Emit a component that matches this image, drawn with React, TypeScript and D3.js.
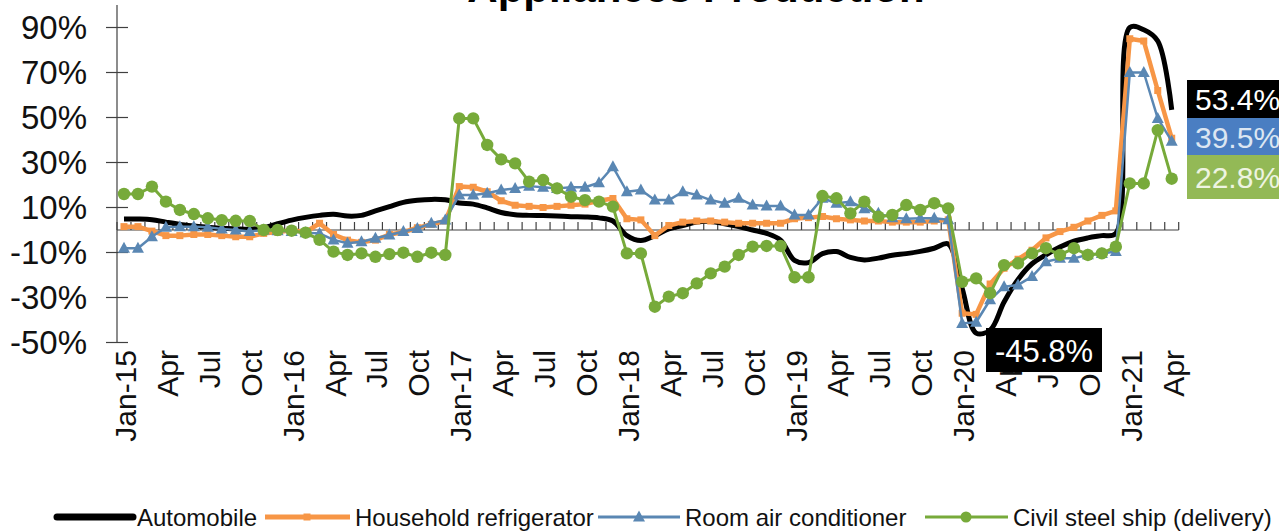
import React from "react";
import * as d3 from "d3";

const categories = [
  "Jan-15","Feb-15","Mar-15","Apr-15","May-15","Jun-15","Jul-15","Aug-15","Sep-15","Oct-15","Nov-15","Dec-15",
  "Jan-16","Feb-16","Mar-16","Apr-16","May-16","Jun-16","Jul-16","Aug-16","Sep-16","Oct-16","Nov-16","Dec-16",
  "Jan-17","Feb-17","Mar-17","Apr-17","May-17","Jun-17","Jul-17","Aug-17","Sep-17","Oct-17","Nov-17","Dec-17",
  "Jan-18","Feb-18","Mar-18","Apr-18","May-18","Jun-18","Jul-18","Aug-18","Sep-18","Oct-18","Nov-18","Dec-18",
  "Jan-19","Feb-19","Mar-19","Apr-19","May-19","Jun-19","Jul-19","Aug-19","Sep-19","Oct-19","Nov-19","Dec-19",
  "Jan-20","Feb-20","Mar-20","Apr-20","May-20","Jun-20","Jul-20","Aug-20","Sep-20","Oct-20","Nov-20","Dec-20",
  "Jan-21","Feb-21","Mar-21","Apr-21",
];

const tickLabels = [
  "Jan-15","Apr","Jul","Oct","Jan-16","Apr","Jul","Oct","Jan-17","Apr","Jul","Oct",
  "Jan-18","Apr","Jul","Oct","Jan-19","Apr","Jul","Oct","Jan-20","Apr","Jul","Oct","Jan-21","Apr",
];

const yTicks = [-50, -30, -10, 10, 30, 50, 70, 90];

const automobile = [
  4.9, 4.9, 4.6, 3.5, 2.5, 1.8, 1.2, 0.8, 0.5, 0.3, 1.0, 2.8,
  4.4, 5.6, 6.5, 7.0, 6.2, 6.5, 8.5, 10.4, 12.3, 13.2, 13.6, 13.4,
  12.0, 11.5, 9.8, 7.8, 6.8, 6.5, 6.4, 6.2, 5.9, 5.8, 5.4, 4.0,
  -2.5, -4.7, -2.5, 0.5, 2.0, 3.5, 3.8, 2.8, 1.5, 0.0, -1.5, -4.5,
  -13.5, -14.5, -10.5, -9.6, -12.2, -13.3, -12.5, -11.2, -10.5, -9.5, -8.1, -6.2,
  -26.0, -45.8, -44.5, -32.0, -22.0, -15.0, -11.0, -7.6, -5.0, -3.5, -2.5, -1.5,
  90.0, 89.0, 84.0, 53.4,
];

const refrigerator = [
  1.5, 1.5, -0.5, -2.5, -2.5, -2.0, -2.0, -2.5, -3.0, -3.0, -1.5, -1.0,
  0.0, -1.0, 3.0, -2.0, -4.5, -5.5, -4.5, -2.0, -1.0, 1.0, 2.5, 4.0,
  19.3, 19.0, 17.0, 13.0, 11.0, 10.5, 10.0, 10.5, 11.0, 11.5, 13.0, 14.0,
  5.0, 4.5, -2.5, 2.0, 3.5, 4.0, 4.0, 3.5, 3.0, 3.0, 3.0, 3.0,
  5.0, 5.5, 6.0, 5.0, 4.5, 4.0, 4.0, 3.5, 3.5, 3.5, 4.0, 4.5,
  -37.0, -37.5, -24.0, -17.0, -13.0, -9.0, -3.5, -0.7, 1.2, 4.0, 6.5, 8.5,
  85.0, 84.0, 62.0, 40.8,
];

const airConditioner = [
  -8.1, -8.1, -3.0, 1.2, 1.5, 1.5, 1.2, 0.5, 0.0, -0.7, 0.0, -0.3,
  -0.7, -1.2, -1.5, -4.4, -5.9, -5.2, -3.7, -2.2, -0.7, 0.7, 3.0, 4.4,
  15.6, 15.6, 16.3, 17.8, 18.5, 19.5, 19.0, 18.5, 19.0, 19.0, 21.0, 28.1,
  17.0, 17.8, 13.3, 13.3, 17.0, 15.6, 13.3, 11.9, 14.1, 11.1, 10.7, 10.7,
  6.7, 6.7, 14.1, 11.9, 12.6, 9.5, 7.4, 5.5, 5.0, 5.2, 5.2, 4.6,
  -41.5, -41.0, -31.0, -25.2, -24.4, -20.7, -14.1, -12.6, -12.6, -11.0, -10.4, -9.6,
  70.0, 70.0, 49.6, 39.5,
];

const steelShip = [
  16.0, 16.0, 19.3, 12.6, 8.9, 7.1, 5.2, 4.4, 4.1, 4.0, 0.0, 0.0,
  -0.3, -1.2, -4.4, -9.6, -11.1, -10.4, -11.9, -10.7, -10.1, -11.9, -10.1, -11.1,
  49.6, 49.6, 37.8, 31.4, 29.6, 21.5, 22.2, 18.5, 14.8, 13.3, 12.6, 10.4,
  -10.4, -10.4, -34.1, -29.6, -28.1, -23.7, -19.3, -16.3, -11.1, -7.4, -7.1, -7.1,
  -21.0, -21.0, 15.1, 14.1, 7.4, 12.6, 5.9, 6.7, 11.1, 8.9, 11.9, 9.6,
  -23.0, -21.5, -28.1, -15.6, -14.8, -10.4, -8.1, -11.1, -8.1, -11.1, -10.4, -7.4,
  20.7, 20.7, 44.4, 22.8,
];

const seriesNames = ["Automobile", "Household refrigerator", "Room air conditioner", "Civil steel ship (delivery)"];
const valueLabels = ["53.4%", "39.5%", "22.8%", "-45.8%"];
const title = "Appliances Production";

const FONT = "'Liberation Sans', Arial, Helvetica, sans-serif";
const C_BLACK = "#000000";
const C_ORANGE = "#F79646";
const C_BLUE = "#5A87B3";
const C_GREEN = "#77AA3A";

const W = 1279;
const H = 532;

const x = d3.scaleBand<string>().domain(categories).range([117, 1178.7]).paddingInner(0).paddingOuter(0);
const y = d3.scaleLinear().domain([-50, 100]).range([342.5, 5]);
const px = (i: number) => (x(categories[i]) as number) + x.bandwidth() / 2;

const smoothLine = d3
  .line<number>()
  .x((_, i) => px(i))
  .y((d) => y(d))
  .curve(d3.curveCatmullRom.alpha(0.5));
const straightLine = d3
  .line<number>()
  .x((_, i) => px(i))
  .y((d) => y(d));

const tri = "M0,-6.5 L6,4.5 L-6,4.5 Z";
const LEG_Y = 517;

export default function App() {
  const bw = x.bandwidth();
  const boundaries = d3.range(categories.length + 1).map((k) => 117 + k * bw);
  return (
    <svg
      width={W}
      height={H}
      viewBox={`0 0 ${W} ${H}`}
      style={{ position: "absolute", left: 0, top: 0, display: "block", background: "#fff" }}
      fontFamily={FONT}
    >
      <rect x={0} y={0} width={W} height={H} fill="#fff" />
      {/* title (cropped at top, as in the reference) */}
      <text x={696} y={2} textAnchor="middle" fontSize={42} fontWeight="bold" fill="#000">
        {title}
      </text>

      {/* y axis */}
      <line x1={117} x2={117} y1={y(100)} y2={y(-50)} stroke="#404040" strokeWidth={1.2} />
      {yTicks.map((t) => (
        <g key={t}>
          <line x1={106} x2={128} y1={y(t)} y2={y(t)} stroke="#404040" strokeWidth={1.2} />
          <text x={87} y={y(t)} dy="0.36em" textAnchor="end" fontSize={33} fill="#111">
            {t}%
          </text>
        </g>
      ))}

      {/* x axis at 0 */}
      <line x1={117} x2={boundaries[boundaries.length - 1]} y1={y(0)} y2={y(0)} stroke="#404040" strokeWidth={1.2} />
      {boundaries.map((bx, k) => (
        <line key={k} x1={bx} x2={bx} y1={y(0)} y2={y(0) - 8} stroke="#404040" strokeWidth={1.2} />
      ))}

      {/* x tick labels */}
      {tickLabels.map((lab, k) => {
        const cx = px(k * 3);
        return (
          <text
            key={k}
            transform={`translate(${cx + 12},350) rotate(-90)`}
            textAnchor="end"
            fontSize={30}
            fill="#111"
          >
            {lab}
          </text>
        );
      })}

      {/* series */}
      <path d={smoothLine(automobile) || ""} fill="none" stroke={C_BLACK} strokeWidth={5} strokeLinejoin="round" />

      <path d={straightLine(refrigerator) || ""} fill="none" stroke={C_ORANGE} strokeWidth={4.5} strokeLinejoin="round" />
      {refrigerator.map((v, i) => (
        <rect key={i} x={px(i) - 3.5} y={y(v) - 3.5} width={7} height={7} fill={C_ORANGE} />
      ))}

      <path d={straightLine(airConditioner) || ""} fill="none" stroke={C_BLUE} strokeWidth={2.5} strokeLinejoin="round" />
      {airConditioner.map((v, i) => (
        <path key={i} d={tri} transform={`translate(${px(i)},${y(v)})`} fill={C_BLUE} />
      ))}

      <path d={straightLine(steelShip) || ""} fill="none" stroke={C_GREEN} strokeWidth={3} strokeLinejoin="round" />
      {steelShip.map((v, i) => (
        <circle key={i} cx={px(i)} cy={y(v)} r={6.2} fill={C_GREEN} />
      ))}

      {/* value labels */}
      <rect x={1187} y={80} width={100} height={38} fill="#000" />
      <text x={1195} y={99} dy="0.36em" fontSize={30} fill="#fff">{valueLabels[0]}</text>
      <rect x={1187} y={118} width={100} height={37} fill="#4A7EC2" />
      <text x={1195} y={137} dy="0.36em" fontSize={30} fill="#DCE6F2">{valueLabels[1]}</text>
      <rect x={1187} y={155} width={100} height={44} fill="#93B956" />
      <text x={1195} y={177} dy="0.36em" fontSize={30} fill="#EEF4E2">{valueLabels[2]}</text>

      <rect x={986} y={328} width={116} height={44} fill="#000" />
      <text x={1044} y={351} dy="0.36em" textAnchor="middle" fontSize={31} fill="#fff">{valueLabels[3]}</text>

      {/* legend */}
      <g fontSize={24} fill="#111">
        <line x1={57} x2={133} y1={LEG_Y} y2={LEG_Y} stroke={C_BLACK} strokeWidth={7} strokeLinecap="round" />
        <text x={137} y={LEG_Y} dy="0.36em">{seriesNames[0]}</text>

        <line x1={265} x2={350} y1={LEG_Y} y2={LEG_Y} stroke={C_ORANGE} strokeWidth={5} />
        <rect x={303.5} y={LEG_Y - 3.5} width={7} height={7} fill={C_ORANGE} />
        <text x={355} y={LEG_Y} dy="0.36em">{seriesNames[1]}</text>

        <line x1={598} x2={680} y1={LEG_Y} y2={LEG_Y} stroke={C_BLUE} strokeWidth={3} />
        <path d={tri} transform={`translate(639,${LEG_Y})`} fill={C_BLUE} />
        <text x={685} y={LEG_Y} dy="0.36em">{seriesNames[2]}</text>

        <line x1={925} x2={1008} y1={LEG_Y} y2={LEG_Y} stroke={C_GREEN} strokeWidth={3} />
        <circle cx={966} cy={LEG_Y} r={5.5} fill={C_GREEN} />
        <text x={1013} y={LEG_Y} dy="0.36em">{seriesNames[3]}</text>
      </g>
    </svg>
  );
}
